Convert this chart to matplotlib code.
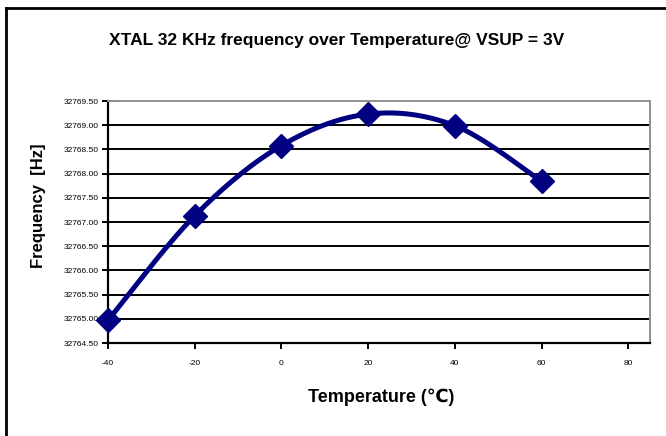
import numpy as np
import matplotlib
matplotlib.use("Agg")
import matplotlib.pyplot as plt
from matplotlib.lines import Line2D
from matplotlib.ticker import FixedLocator, FuncFormatter

# Measured crystal frequency vs. temperature
temperature_c = [-40, -20, 0, 20, 40, 60]
frequency_hz = [32764.97, 32767.13, 32768.58, 32769.23, 32768.99, 32767.84]

x_ticks = [-40, -20, 0, 20, 40, 60, 80]
y_ticks = [32764.5, 32765.0, 32765.5, 32766.0, 32766.5, 32767.0,
           32767.5, 32768.0, 32768.5, 32769.0, 32769.5]

NAVY = "#000080"
NARROW = ["Liberation Sans Narrow", "Liberation Sans", "DejaVu Sans"]
WIDE = ["Liberation Sans", "DejaVu Sans"]

plt.rcParams["axes.unicode_minus"] = False


def smooth_path(x, y, samples=40):
    """Cubic Bezier spline through the points (spreadsheet-style smoothed line)."""
    p = np.column_stack([x, y]).astype(float)
    n = len(p)
    out = []
    for i in range(n - 1):
        p0 = p[i - 1] if i > 0 else p[i]
        p1 = p[i]
        p2 = p[i + 1]
        p3 = p[i + 2] if i + 2 < n else p[i + 1]
        c1 = p1 + (p2 - p0) / 6.0
        c2 = p2 - (p3 - p1) / 6.0
        t = np.linspace(0, 1, samples, endpoint=(i == n - 2))[:, None]
        seg = ((1 - t) ** 3) * p1 + 3 * ((1 - t) ** 2) * t * c1 \
            + 3 * (1 - t) * t ** 2 * c2 + t ** 3 * p2
        out.append(seg)
    seg = np.vstack(out)
    return seg[:, 0], seg[:, 1]


fig = plt.figure(figsize=(6.66, 4.36), dpi=100)
ax = fig.add_axes([0.1622, 0.2133, 0.8138, 0.555])

# horizontal grid lines
for yv in y_ticks[1:-1]:
    ax.axhline(yv, color="black", lw=1.4, zorder=1)

sx, sy = smooth_path(temperature_c, frequency_hz)
ax.plot(sx, sy, color=NAVY, lw=3.6, solid_capstyle="round", zorder=3)
ax.plot(temperature_c, frequency_hz, linestyle="none", marker="D",
        markersize=12.5, color=NAVY, zorder=4, clip_on=False)

ax.set_xlim(-40, 85)
ax.set_ylim(32764.5, 32769.5)
ax.xaxis.set_major_locator(FixedLocator(x_ticks))
ax.yaxis.set_major_locator(FixedLocator(y_ticks))
ax.yaxis.set_major_formatter(FuncFormatter(lambda v, _: f"{v:.2f}"))

for side in ("top", "right"):
    ax.spines[side].set_color("#909090")
    ax.spines[side].set_linewidth(1.4)
for side in ("left", "bottom"):
    ax.spines[side].set_color("black")
    ax.spines[side].set_linewidth(1.6)

ax.tick_params(axis="y", direction="inout", length=9, width=1.4,
               labelsize=6, pad=2)
ax.tick_params(axis="x", direction="out", length=4, width=1.4,
               labelsize=6, pad=8)
for lab in ax.get_xticklabels() + ax.get_yticklabels():
    lab.set_family(NARROW)

fig.text(0.506, 0.908, "XTAL 32 KHz frequency over Temperature@ VSUP = 3V",
         ha="center", va="center", fontsize=12.5, fontweight="bold",
         family=NARROW)
fig.text(0.572, 0.088, "Temperature (\u2103)", ha="center", va="center",
         fontsize=13, fontweight="bold", family=NARROW + ["Noto Sans CJK SC"])
fig.text(0.058, 0.527, "Frequency  [Hz]", ha="center", va="center",
         rotation=90, fontsize=12, fontweight="bold", family=WIDE)

# chart frame (top and left edges)
fig.add_artist(Line2D([6 / 666, 6 / 666], [0, 1 - 8 / 436],
                      transform=fig.transFigure, color="black", lw=2))
fig.add_artist(Line2D([6 / 666, 1], [1 - 8 / 436, 1 - 8 / 436],
                      transform=fig.transFigure, color="black", lw=2))

fig.savefig("out.png", dpi=100)
